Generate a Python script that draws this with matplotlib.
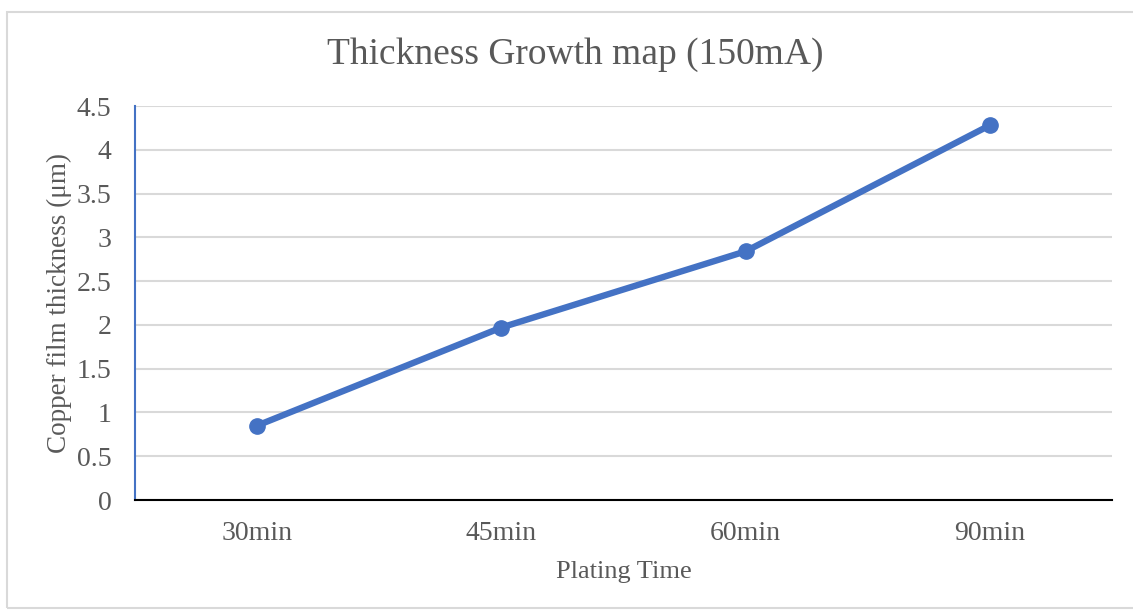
import matplotlib.pyplot as plt
from matplotlib.patches import Rectangle

# data
times = ['30min', '45min', '60min', '90min']
thickness = [0.85, 1.97, 2.84, 4.28]
yticks = [0, 0.5, 1, 1.5, 2, 2.5, 3, 3.5, 4, 4.5]
ytick_labels = ['0', '0.5', '1', '1.5', '2', '2.5', '3', '3.5', '4', '4.5']

plt.rcParams['font.family'] = ['Liberation Serif', 'DejaVu Serif']
txt = '#595959'

fig = plt.figure(figsize=(11.33, 6.10), dpi=100)
# chart border like the office chart frame
fig.patches.append(Rectangle((7 / 1133, 2 / 610), 1130 / 1133, 596 / 610,
                             transform=fig.transFigure, fill=False,
                             edgecolor='#D9D9D9', linewidth=1.5))

ax = fig.add_axes([135 / 1133, 110 / 610, 977 / 1133, 394 / 610])
x = list(range(len(times)))
ax.plot(x, thickness, color='#4472C4', linewidth=4.6, marker='o',
        markersize=11, solid_capstyle='round', zorder=3)

ax.set_xlim(-0.5, len(times) - 0.5)
ax.set_ylim(0, 4.5)
ax.set_yticks(yticks)
ax.set_yticklabels(ytick_labels)
ax.set_xticks(x)
ax.set_xticklabels(times)
ax.grid(axis='y', color='#D9D9D9', linewidth=1.5)
ax.set_axisbelow(True)

for s in ['top', 'right']:
    ax.spines[s].set_visible(False)
ax.spines['left'].set_color('#4472C4')
ax.spines['left'].set_linewidth(1.5)
ax.spines['bottom'].set_color('black')
ax.spines['bottom'].set_linewidth(1.5)
ax.spines['bottom'].set_zorder(4)
ax.tick_params(length=0, labelsize=20, colors=txt)
ax.tick_params(axis='y', pad=17)
ax.tick_params(axis='x', pad=15)

ax.set_xlabel('Plating Time', fontsize=19, color=txt)
ax.xaxis.set_label_coords(0.5, -0.156)
ax.set_ylabel('Copper film thickness (μm)', fontsize=19.5, color=txt)
ax.yaxis.set_label_coords(-0.064, 0.5)
fig.text(575 / 1133, 1 - 55 / 610, 'Thickness Growth map (150mA)',
         ha='center', va='center', fontsize=27, color=txt)

plt.savefig('out.png', dpi=100)
